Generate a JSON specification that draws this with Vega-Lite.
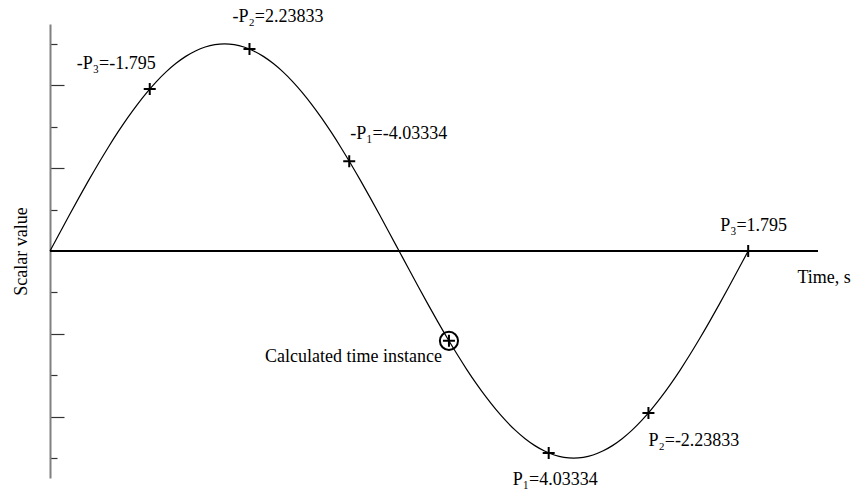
{
  "$schema": "https://vega.github.io/schema/vega-lite/v6.json",
  "width": 768,
  "height": 454,
  "autosize": {"type": "none"},
  "padding": {"left": 50, "top": 24, "right": 35, "bottom": 17},
  "background": "white",
  "config": {"view": {"stroke": null}, "font": "Liberation Serif"},
  "datasets": {
    "curve": [
      {"t": 0, "v": 0}, {"t": 5, "v": 0.4358}, {"t": 10, "v": 0.8682}, {"t": 15, "v": 1.2941},
      {"t": 20, "v": 1.7101}, {"t": 25, "v": 2.1131}, {"t": 30, "v": 2.5}, {"t": 35, "v": 2.8679},
      {"t": 40, "v": 3.2139}, {"t": 45, "v": 3.5355}, {"t": 50, "v": 3.8302}, {"t": 55, "v": 4.0958},
      {"t": 60, "v": 4.3301}, {"t": 65, "v": 4.5315}, {"t": 70, "v": 4.6985}, {"t": 75, "v": 4.8296},
      {"t": 80, "v": 4.924}, {"t": 85, "v": 4.981}, {"t": 90, "v": 5}, {"t": 95, "v": 4.981},
      {"t": 100, "v": 4.924}, {"t": 105, "v": 4.8296}, {"t": 110, "v": 4.6985}, {"t": 115, "v": 4.5315},
      {"t": 120, "v": 4.3301}, {"t": 125, "v": 4.0958}, {"t": 130, "v": 3.8302}, {"t": 135, "v": 3.5355},
      {"t": 140, "v": 3.2139}, {"t": 145, "v": 2.8679}, {"t": 150, "v": 2.5}, {"t": 155, "v": 2.1131},
      {"t": 160, "v": 1.7101}, {"t": 165, "v": 1.2941}, {"t": 170, "v": 0.8682}, {"t": 175, "v": 0.4358},
      {"t": 180, "v": 0}, {"t": 185, "v": -0.4358}, {"t": 190, "v": -0.8682}, {"t": 195, "v": -1.2941},
      {"t": 200, "v": -1.7101}, {"t": 205, "v": -2.1131}, {"t": 210, "v": -2.5}, {"t": 215, "v": -2.8679},
      {"t": 220, "v": -3.2139}, {"t": 225, "v": -3.5355}, {"t": 230, "v": -3.8302}, {"t": 235, "v": -4.0958},
      {"t": 240, "v": -4.3301}, {"t": 245, "v": -4.5315}, {"t": 250, "v": -4.6985}, {"t": 255, "v": -4.8296},
      {"t": 260, "v": -4.924}, {"t": 265, "v": -4.981}, {"t": 270, "v": -5}, {"t": 275, "v": -4.981},
      {"t": 280, "v": -4.924}, {"t": 285, "v": -4.8296}, {"t": 290, "v": -4.6985}, {"t": 295, "v": -4.5315},
      {"t": 300, "v": -4.3301}, {"t": 305, "v": -4.0958}, {"t": 310, "v": -3.8302}, {"t": 315, "v": -3.5355},
      {"t": 320, "v": -3.2139}, {"t": 325, "v": -2.8679}, {"t": 330, "v": -2.5}, {"t": 335, "v": -2.1131},
      {"t": 340, "v": -1.7101}, {"t": 345, "v": -1.2941}, {"t": 350, "v": -0.8682}, {"t": 355, "v": -0.4358},
      {"t": 360, "v": 0}
    ],
    "points": [
      {"id": 1, "t": 51.43, "v": 3.909, "label": "-P₃=-1.795"},
      {"id": 2, "t": 102.86, "v": 4.875, "label": "-P₂=2.23833"},
      {"id": 3, "t": 154.29, "v": 2.169, "label": "-P₁=-4.03334"},
      {"id": 4, "t": 205.71, "v": -2.169, "label": "Calculated time instance"},
      {"id": 5, "t": 257.14, "v": -4.875, "label": "P₁=4.03334"},
      {"id": 6, "t": 308.57, "v": -3.909, "label": "P₂=-2.23833"},
      {"id": 7, "t": 360, "v": 0, "label": "P₃=1.795"}
    ]
  },
  "encoding": {
    "x": {
      "field": "t", "type": "quantitative",
      "scale": {"domain": [0, 396], "nice": false, "zero": false},
      "axis": {
        "domain": false, "ticks": false, "labels": false, "grid": false,
        "title": "Time, s", "titleX": 747, "titleY": -196, "titleAlign": "left",
        "titleBaseline": "alphabetic", "titleFont": "Liberation Serif", "titleFontSize": 18,
        "titleFontWeight": "normal", "titleColor": "black"
      }
    },
    "y": {
      "field": "v", "type": "quantitative",
      "scale": {"domain": [-5.48, 5.48], "nice": false, "zero": false},
      "axis": {
        "values": [-5, -4, -3, -2, -1, 1, 2, 3, 4, 5],
        "labels": false, "grid": false,
        "domainColor": "#808080", "domainWidth": 2,
        "tickColor": "#333333", "tickWidth": 1.2,
        "tickSize": {"condition": {"test": "datum.value % 2 === 0", "value": -14}, "value": -7},
        "title": "Scalar value", "titleX": -24, "titleY": 227, "titleAngle": -90,
        "titleAlign": "center", "titleBaseline": "alphabetic",
        "titleFont": "Liberation Serif", "titleFontSize": 18, "titleFontWeight": "normal",
        "titleColor": "black"
      }
    }
  },
  "layer": [
    {
      "data": {"name": "curve"},
      "mark": {"type": "rule", "color": "black", "strokeWidth": 1.5},
      "encoding": {"y": {"datum": 0}, "x": null}
    },
    {
      "data": {"name": "curve"},
      "mark": {"type": "line", "color": "black", "strokeWidth": 1.2, "interpolate": "monotone"}
    },
    {
      "data": {"name": "points"},
      "mark": {"type": "point", "shape": "M-1,0H1M0,-1V1", "size": 144, "filled": false, "stroke": "black", "strokeWidth": 2, "opacity": 1}
    },
    {
      "data": {"name": "points"},
      "transform": [{"filter": "datum.id === 4"}],
      "mark": {"type": "point", "shape": "circle", "size": 330, "filled": false, "stroke": "black", "strokeWidth": 2, "opacity": 1}
    },
    {
      "data": {"name": "points"},
      "transform": [{"filter": "datum.id === 1"}],
      "mark": {"type": "text", "align": "left", "baseline": "alphabetic", "dx": -73, "dy": -20, "font": "Liberation Serif", "fontSize": 18, "color": "black"},
      "encoding": {"text": {"field": "label"}}
    },
    {
      "data": {"name": "points"},
      "transform": [{"filter": "datum.id === 2"}],
      "mark": {"type": "text", "align": "left", "baseline": "alphabetic", "dx": -17, "dy": -27, "font": "Liberation Serif", "fontSize": 18, "color": "black"},
      "encoding": {"text": {"field": "label"}}
    },
    {
      "data": {"name": "points"},
      "transform": [{"filter": "datum.id === 3"}],
      "mark": {"type": "text", "align": "left", "baseline": "alphabetic", "dx": 1, "dy": -22, "font": "Liberation Serif", "fontSize": 18, "color": "black"},
      "encoding": {"text": {"field": "label"}}
    },
    {
      "data": {"name": "points"},
      "transform": [{"filter": "datum.id === 4"}],
      "mark": {"type": "text", "align": "right", "baseline": "alphabetic", "dx": -7, "dy": 21, "font": "Liberation Serif", "fontSize": 18, "color": "black"},
      "encoding": {"text": {"field": "label"}}
    },
    {
      "data": {"name": "points"},
      "transform": [{"filter": "datum.id === 5"}],
      "mark": {"type": "text", "align": "left", "baseline": "alphabetic", "dx": -36, "dy": 32, "font": "Liberation Serif", "fontSize": 18, "color": "black"},
      "encoding": {"text": {"field": "label"}}
    },
    {
      "data": {"name": "points"},
      "transform": [{"filter": "datum.id === 6"}],
      "mark": {"type": "text", "align": "left", "baseline": "alphabetic", "dx": 0, "dy": 33, "font": "Liberation Serif", "fontSize": 18, "color": "black"},
      "encoding": {"text": {"field": "label"}}
    },
    {
      "data": {"name": "points"},
      "transform": [{"filter": "datum.id === 7"}],
      "mark": {"type": "text", "align": "left", "baseline": "alphabetic", "dx": -28, "dy": -20, "font": "Liberation Serif", "fontSize": 18, "color": "black"},
      "encoding": {"text": {"field": "label"}}
    }
  ]
}
